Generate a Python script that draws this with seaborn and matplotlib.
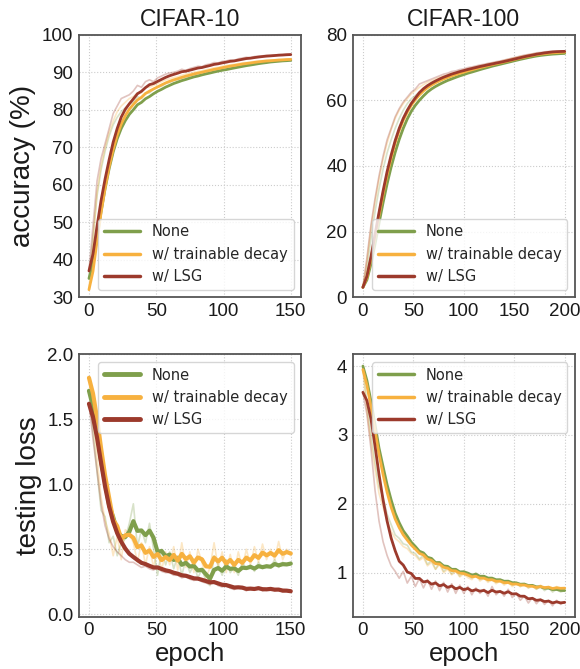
import numpy as np
import pandas as pd
import matplotlib
matplotlib.use("Agg")
import matplotlib.pyplot as plt
import seaborn as sns

# ---- data ----
methods = ["None", "w/ trainable decay", "w/ LSG"]
colors = ["#7f9f4c", "#f7b13f", "#9c3a2c"]

ep10 = np.arange(0, 151, 3)
ep100 = np.arange(0, 201, 4)

# CIFAR-10 test accuracy (raw, every 3 epochs)
acc10_none = [35, 46, 57, 64, 69, 73, 76, 78, 79.5, 80.5,
              81.5, 82, 83.5, 83, 84.5, 84.5, 85.5, 86, 86.3, 87,
              87.3, 87.8, 88, 88.4, 88.6, 89, 89.3, 89.4, 89.8, 90,
              90.2, 90.5, 90.7, 90.9, 91, 91.3, 91.5, 91.7, 91.9, 92.1,
              92.2, 92.4, 92.6, 92.7, 92.8, 93, 93, 93.1, 93.2, 93.2,
              93.3]
acc10_decay = [32, 45, 58, 65, 70, 74, 77, 79.5, 81, 82,
               83, 83.5, 84.5, 84.5, 86, 86, 86.5, 87, 87.5, 88,
               88.3, 88.6, 88.8, 89.2, 89.5, 89.7, 90, 90.2, 90.4, 90.7,
               90.9, 91.2, 91.3, 91.6, 91.8, 92, 92.1, 92.3, 92.5, 92.6,
               92.7, 92.9, 93, 93.1, 93.2, 93.2, 93.3, 93.4, 93.4, 93.5,
               93.5]
acc10_lsg = [37, 49, 61, 67, 71, 75, 79, 81, 83, 83.5,
             84, 85, 86.5, 86, 87.5, 88, 87.5, 88.5, 89, 89.5,
             89.8, 90, 90.3, 90.8, 90.5, 91, 91.3, 91.6, 91.5, 92,
             92.2, 92.6, 92.5, 92.9, 93, 93.3, 93.2, 93.6, 93.8, 94,
             93.9, 94.2, 94.3, 94.4, 94.5, 94.5, 94.6, 94.7, 94.7, 94.8,
             94.8]

# CIFAR-100 test accuracy (raw, every 4 epochs)
acc100_none = [3, 9, 18, 26, 33, 39, 44, 48, 51.5, 54.5,
               57, 59, 60.5, 61.5, 62.5, 63.5, 64.5, 65, 65.5, 66,
               66.5, 67, 67.3, 67.8, 68.2, 68.5, 69, 69.2, 69.6, 70,
               70.3, 70.6, 71, 71.2, 71.5, 71.8, 72.1, 72.4, 72.7, 73,
               73.2, 73.5, 73.7, 73.9, 74, 74.1, 74.2, 74.3, 74.3, 74.4,
               74.4]
acc100_decay = [3, 11, 21, 29, 36, 42, 47, 51, 54.5, 57,
                59, 60.5, 62, 63, 64, 64.8, 65.5, 66, 66.5, 67,
                67.4, 67.8, 68.2, 68.5, 68.9, 69.2, 69.6, 69.9, 70.2, 70.5,
                70.8, 71.1, 71.4, 71.6, 71.9, 72.2, 72.5, 72.8, 73.1, 73.4,
                73.6, 73.9, 74.1, 74.3, 74.4, 74.5, 74.6, 74.7, 74.7, 74.8,
                74.8]
acc100_lsg = [3, 12, 22, 30, 37, 43, 48, 51.5, 55, 57.5,
              59.5, 61, 62.5, 63.5, 65, 65.5, 66, 66.5, 67, 67.5,
              68, 68.3, 68.8, 69, 69.4, 69.6, 70, 70.2, 70.5, 70.8,
              71, 71.3, 71.5, 71.8, 72, 72.3, 72.6, 72.9, 73.2, 73.5,
              73.8, 74, 74.2, 74.5, 74.6, 74.8, 74.9, 75, 75, 75,
              75]

# CIFAR-10 testing loss
loss10_none = [1.72, 1.40, 1.10, 0.80, 0.75, 0.55, 0.60, 0.45, 0.55, 0.58,
               0.70, 0.85, 0.52, 0.65, 0.55, 0.70, 0.50, 0.30, 0.50, 0.38,
               0.48, 0.35, 0.45, 0.30, 0.42, 0.32, 0.38, 0.28, 0.35, 0.25,
               0.22, 0.45, 0.38, 0.30, 0.42, 0.32, 0.36, 0.30, 0.40, 0.35,
               0.38, 0.33, 0.40, 0.35, 0.38, 0.36, 0.42, 0.36, 0.40, 0.38,
               0.40]
loss10_decay = [1.82, 1.50, 1.20, 0.90, 0.72, 0.62, 0.45, 0.60, 0.42, 0.65,
                0.62, 0.55, 0.40, 0.55, 0.38, 0.52, 0.36, 0.50, 0.34, 0.48,
                0.38, 0.52, 0.34, 0.55, 0.36, 0.48, 0.32, 0.50, 0.40, 0.28,
                0.36, 0.55, 0.36, 0.48, 0.32, 0.46, 0.32, 0.48, 0.36, 0.50,
                0.38, 0.52, 0.40, 0.54, 0.42, 0.50, 0.42, 0.56, 0.42, 0.50,
                0.45]
loss10_lsg = [1.62, 1.35, 1.10, 0.85, 0.68, 0.58, 0.52, 0.48, 0.45, 0.42,
              0.40, 0.40, 0.38, 0.36, 0.37, 0.35, 0.34, 0.36, 0.33, 0.32,
              0.32, 0.30, 0.30, 0.28, 0.29, 0.27, 0.26, 0.27, 0.25, 0.24,
              0.23, 0.25, 0.22, 0.21, 0.22, 0.20, 0.19, 0.21, 0.20, 0.18,
              0.20, 0.19, 0.21, 0.18, 0.19, 0.20, 0.18, 0.19, 0.17, 0.18,
              0.17]

# CIFAR-100 testing loss
loss100_none = [4.0, 3.45, 3.0, 2.6, 2.25, 2.1, 1.85, 1.7, 1.55, 1.5,
                1.42, 1.40, 1.30, 1.28, 1.20, 1.25, 1.12, 1.18, 1.05, 1.15,
                1.02, 1.08, 0.98, 1.05, 0.95, 1.02, 0.96, 0.92, 1.00, 0.90,
                0.95, 0.88, 0.92, 0.86, 0.90, 0.84, 0.88, 0.82, 0.85, 0.80,
                0.84, 0.78, 0.82, 0.76, 0.80, 0.74, 0.78, 0.72, 0.76, 0.72,
                0.74]
loss100_decay = [3.95, 3.35, 2.9, 2.5, 2.15, 1.95, 1.75, 1.6, 1.5, 1.45,
                 1.38, 1.35, 1.28, 1.25, 1.18, 1.22, 1.10, 1.15, 1.05, 1.12,
                 1.00, 1.05, 0.97, 1.02, 0.94, 0.98, 0.93, 0.90, 0.96, 0.88,
                 0.92, 0.86, 0.90, 0.84, 0.88, 0.82, 0.86, 0.80, 0.84, 0.80,
                 0.82, 0.78, 0.80, 0.76, 0.82, 0.76, 0.80, 0.74, 0.80, 0.76,
                 0.78]
loss100_lsg = [3.62, 3.30, 2.80, 2.20, 1.75, 1.45, 1.25, 1.10, 1.02, 0.92,
               1.02, 0.85, 0.95, 0.80, 0.92, 0.78, 0.90, 0.76, 0.88, 0.74,
               0.86, 0.72, 0.84, 0.70, 0.82, 0.70, 0.80, 0.68, 0.78, 0.70,
               0.76, 0.66, 0.80, 0.68, 0.74, 0.66, 0.76, 0.64, 0.70, 0.60,
               0.66, 0.56, 0.64, 0.55, 0.62, 0.54, 0.60, 0.52, 0.60, 0.54,
               0.58]


def make_df(epochs, series):
    frames = []
    for name, vals in zip(methods, series):
        d = pd.DataFrame({"epoch": epochs, "value": vals, "method": name})
        d["smooth"] = d["value"].ewm(alpha=0.38, adjust=False).mean()
        frames.append(d)
    return pd.concat(frames, ignore_index=True)


panels = [
    (make_df(ep10, [acc10_none, acc10_decay, acc10_lsg]), (30, 100), [30, 40, 50, 60, 70, 80, 90, 100], (-7.5, 157.5), 2.0, "lower right"),
    (make_df(ep100, [acc100_none, acc100_decay, acc100_lsg]), (0, 80), [0, 20, 40, 60, 80], (-10, 210), 2.0, "lower right"),
    (make_df(ep10, [loss10_none, loss10_decay, loss10_lsg]), (-0.02, 2.0), [0.0, 0.5, 1.0, 1.5, 2.0], (-7.5, 157.5), 3.0, "upper right"),
    (make_df(ep100, [loss100_none, loss100_decay, loss100_lsg]), (0.36, 4.17), [1, 2, 3, 4], (-10, 210), 2.0, "upper right"),
]

sns.set_style("whitegrid", {"grid.linestyle": ":", "grid.color": "#cccccc",
                            "axes.edgecolor": "#555555"})
plt.rcParams["font.family"] = ["Liberation Sans", "DejaVu Sans"]

fig, axes = plt.subplots(2, 2, figsize=(5.8, 6.69), dpi=100)
fig.subplots_adjust(left=0.136, right=0.991, bottom=0.078, top=0.948,
                    wspace=0.234, hspace=0.218)
pal = dict(zip(methods, colors))

for ax, (df, ylim, yticks, xlim, lw, loc) in zip(axes.flat, panels):
    sns.lineplot(data=df, x="epoch", y="value", hue="method", palette=pal,
                 alpha=0.3, linewidth=1.2, legend=False, ax=ax)
    sns.lineplot(data=df, x="epoch", y="smooth", hue="method", palette=pal,
                 linewidth=lw, ax=ax)
    ax.set_xlim(xlim)
    ax.set_ylim(ylim)
    ax.set_yticks(yticks)
    ax.set_xticks([0, 50, 100, 150] if xlim[1] < 200 else [0, 50, 100, 150, 200])
    ax.tick_params(labelsize=13.5, length=3, color="#555555", labelcolor="#1a1a1a",
                   direction="out", pad=1)
    for s in ax.spines.values():
        s.set_linewidth(1.3)
    ax.set_xlabel("")
    ax.set_ylabel("")
    leg = ax.legend(loc=loc, prop={"family": "DejaVu Sans", "size": 10.5},
                    frameon=True, handlelength=2.5)
    for h in leg.get_lines():
        h.set_linewidth(lw + 0.5)

axes[0, 0].set_title("CIFAR-10", fontsize=16.5, color="#1a1a1a")
axes[0, 1].set_title("CIFAR-100", fontsize=16.5, color="#1a1a1a")
axes[0, 0].set_ylabel("accuracy (%)", fontsize=20, labelpad=4, color="#1a1a1a")
axes[1, 0].set_ylabel("testing loss", fontsize=20, labelpad=4, color="#1a1a1a")
axes[1, 0].set_xlabel("epoch", fontsize=18.5, labelpad=2, color="#1a1a1a")
axes[1, 1].set_xlabel("epoch", fontsize=18.5, labelpad=2, color="#1a1a1a")

fig.savefig("out.png", dpi=100)
